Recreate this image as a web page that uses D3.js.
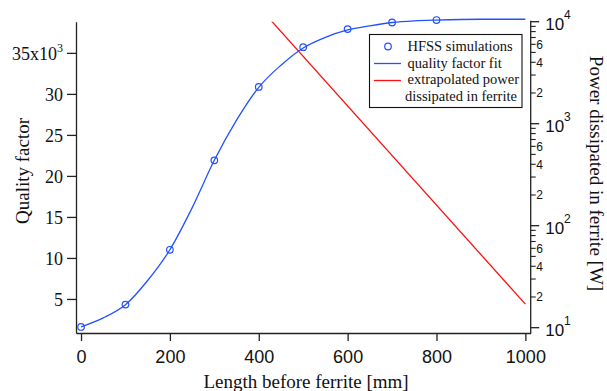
<!DOCTYPE html>
<html>
<head>
<meta charset="utf-8">
<script src="https://cdn.jsdelivr.net/npm/d3@7"></script>
<style>
body { margin: 0; background: #fff; }
svg { display: block; }
.serif { font-family: "Liberation Serif", "DejaVu Serif", serif; }
.sans { font-family: "Liberation Sans", Arial, sans-serif; }
</style>
</head>
<body>
<svg id="chart" width="607" height="391"></svg>
<script>
// HFSS simulation points (quality factor, x10^3)
var lengthMM = [0, 100, 200, 300, 400, 500, 600, 700, 800];
var hfssQ = [1.59, 4.31, 10.99, 21.9, 30.85, 35.7, 37.9, 38.7, 39.0];

// fitted curve
var fitX = [0, 50, 100, 150, 200, 250, 300, 350, 400, 450, 500, 550, 600, 650, 700, 750, 800, 900, 1000];
var fitQ = [1.6, 2.7, 4.3, 7.25, 11.0, 16.1, 21.9, 26.8, 30.8, 33.5, 35.6, 36.9, 37.8, 38.3, 38.7, 38.9, 39.0, 39.1, 39.1];

// extrapolated power (W)
var powerX = [400, 1000];
var powerW = [14000, 17];

var xTicks = [0, 200, 400, 600, 800, 1000];
var qTicks = [5, 10, 15, 20, 25, 30, 35];
var pMajor = [10, 100, 1000, 10000];
var pMinorLabeled = [2, 4, 6];

// plot frame (pixels)
var pLeft = 76, pRight = 530.7, pTop = 21.7, pBottom = 333;
var blue = "#2152ff", red = "#ff1010";

var svg = d3.select("#chart");

var x = d3.scaleLinear().domain([-11.3, 1012]).range([pLeft, pRight]);
var q = d3.scaleLinear().domain([0.85, 38.8]).range([pBottom, pTop]);
var p = d3.scaleLog().domain([8.87, 10000]).range([pBottom, pTop]);

// left axis
var gl = svg.append("g").attr("transform", "translate(" + pLeft + ",0)")
    .call(d3.axisLeft(q).tickValues(qTicks).tickSize(9).tickSizeOuter(0).tickPadding(4));
gl.selectAll("text").attr("class", "serif").style("font-size", "18px").attr("fill", "#111").attr("dy", "0.37em");
gl.selectAll("text").filter(function(d){ return d == 35; }).text(null)
    .call(function(t){
        t.append("tspan").text("35x10");
        t.append("tspan").attr("dy", "-8").style("font-size", "12px").text("3");
    });

// bottom axis
var gb = svg.append("g").attr("transform", "translate(0," + pBottom + ")")
    .call(d3.axisBottom(x).tickValues(xTicks).tickFormat(d3.format("d")).tickSize(8).tickSizeOuter(0).tickPadding(9.5));
gb.selectAll("text").attr("class", "sans").style("font-size", "18px").attr("fill", "#111");

svg.selectAll(".domain, .tick line").attr("stroke", "#222").attr("stroke-width", 1.3);

// right log axis (drawn by hand for the Igor-style labels)
var gr = svg.append("g");
gr.append("line").attr("x1", pRight).attr("x2", pRight).attr("y1", pTop - 1).attr("y2", pBottom)
    .attr("stroke", "#222").attr("stroke-width", 1.3);
pMajor.forEach(function(m, i){
    gr.append("line").attr("x1", pRight).attr("x2", pRight + 8.5).attr("y1", p(m)).attr("y2", p(m))
        .attr("stroke", "#222").attr("stroke-width", 1.3);
    var t = gr.append("text").attr("class", "sans").attr("x", pRight + 14.5).attr("y", p(m) + 8)
        .style("font-size", "17px").attr("fill", "#111");
    t.append("tspan").text("10");
    t.append("tspan").attr("dy", "-11").style("font-size", "12px").text(String(i + 1));
    if (m < 10000) {
        for (var k = 2; k <= 9; k++) {
            var v = m * k;
            gr.append("line").attr("x1", pRight).attr("x2", pRight + 5).attr("y1", p(v)).attr("y2", p(v))
                .attr("stroke", "#222").attr("stroke-width", 1.1);
            if (pMinorLabeled.indexOf(k) >= 0) {
                gr.append("text").attr("class", "sans").attr("x", pRight + 5.5).attr("y", p(v) + 4.5)
                    .style("font-size", "12px").attr("fill", "#111").text(k);
            }
        }
    }
});

// clip for the red line
svg.append("clipPath").attr("id", "plotclip").append("rect")
    .attr("x", pLeft).attr("y", pTop).attr("width", pRight - pLeft).attr("height", pBottom - pTop);

svg.append("path")
    .datum(d3.zip(powerX, powerW))
    .attr("clip-path", "url(#plotclip)")
    .attr("fill", "none").attr("stroke", red).attr("stroke-width", 1.3)
    .attr("d", d3.line().x(function(d){ return x(d[0]); }).y(function(d){ return p(d[1]); }));

svg.append("path")
    .datum(d3.zip(fitX, fitQ))
    .attr("fill", "none").attr("stroke", blue).attr("stroke-width", 1.3)
    .attr("d", d3.line().curve(d3.curveMonotoneX).x(function(d){ return x(d[0]); }).y(function(d){ return q(d[1]); }));

svg.selectAll("circle.sim").data(d3.zip(lengthMM, hfssQ)).enter().append("circle")
    .attr("class", "sim")
    .attr("cx", function(d){ return x(d[0]); }).attr("cy", function(d){ return q(d[1]); })
    .attr("r", 3.3).attr("fill", "none").attr("stroke", blue).attr("stroke-width", 1.2);

// legend
var lg = svg.append("g");
lg.append("rect").attr("x", 369.5).attr("y", 34.5).attr("width", 152.5).attr("height", 73)
    .attr("fill", "#fff").attr("stroke", "#111").attr("stroke-width", 1.1);
lg.append("circle").attr("cx", 388).attr("cy", 46.5).attr("r", 3.3)
    .attr("fill", "none").attr("stroke", blue).attr("stroke-width", 1.2);
lg.append("line").attr("x1", 374).attr("x2", 401).attr("y1", 63.5).attr("y2", 63.5).attr("stroke", blue).attr("stroke-width", 1.3);
lg.append("line").attr("x1", 374).attr("x2", 401).attr("y1", 80.5).attr("y2", 80.5).attr("stroke", red).attr("stroke-width", 1.3);
var legendText = ["HFSS simulations", "quality factor fit", "extrapolated power", "dissipated in ferrite"];
legendText.forEach(function(s, i){
    lg.append("text").attr("class", "serif").attr("x", i == 3 ? 405 : 407.5).attr("y", 51 + i * 16.7)
        .style("font-size", "14.5px").attr("fill", "#111").text(s);
});

// axis titles
svg.append("text").attr("class", "serif").attr("text-anchor", "middle")
    .attr("transform", "translate(28.5,171) rotate(-90)")
    .style("font-size", "19px").attr("fill", "#111").text("Quality factor");
svg.append("text").attr("class", "serif").attr("text-anchor", "middle")
    .attr("x", 306).attr("y", 388)
    .style("font-size", "19px").attr("fill", "#111").text("Length before ferrite [mm]");
svg.append("text").attr("class", "serif").attr("text-anchor", "middle")
    .attr("transform", "translate(590,173.5) rotate(90)")
    .style("font-size", "19px").attr("fill", "#111").text("Power dissipated in ferrite [W]");
</script>
</body>
</html>
